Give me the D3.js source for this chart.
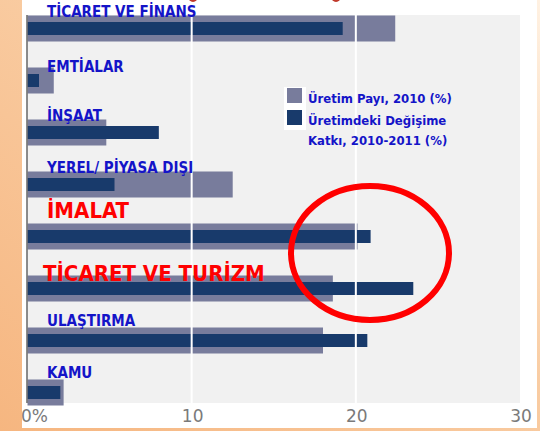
<!DOCTYPE html>
<html>
<head>
<meta charset="utf-8">
<script src="https://cdn.jsdelivr.net/npm/d3@7"></script>
<style>
  html, body { margin: 0; padding: 0; background: #fff; }
  svg { display: block; }
</style>
</head>
<body>
<div id="grafico"></div>
<script>
// Dados do gráfico
const categorias = ["TİCARET VE FİNANS", "EMTİALAR", "İNŞAAT", "YEREL/ PİYASA DIŞI",
                    "İMALAT", "TİCARET VE TURİZM", "ULAŞTIRMA", "KAMU"];
const uretimPayi = [22.4, 1.6, 4.8, 12.5, 20.1, 18.6, 18.0, 2.2];
const degisimeKatki = [19.2, 0.7, 8.0, 5.3, 20.9, 23.5, 20.7, 2.0];
const vurgulanan = ["İMALAT", "TİCARET VE TURİZM"];
const xTicks = [0, 10, 20, 30];
const legendaLinhas = [["Üretim Payı, 2010 (%)"], ["Üretimdeki Değişime", "Katkı, 2010-2011 (%)"]];

const W = 540, H = 431;
const fonte = "'DejaVu Sans Condensed', 'DejaVu Sans', sans-serif";

const svg = d3.select("#grafico")
  .append("svg")
    .attr("width", W)
    .attr("height", H);

// fundo laranja (moldura do slide)
const defs = svg.append("defs");
const grad = defs.append("linearGradient")
  .attr("id", "fundo")
  .attr("x1", "0%").attr("y1", "100%")
  .attr("x2", "100%").attr("y2", "0%");
grad.append("stop").attr("offset", "0%").attr("stop-color", "#f6b680");
grad.append("stop").attr("offset", "55%").attr("stop-color", "#f9cca2");
grad.append("stop").attr("offset", "100%").attr("stop-color", "#fff1e2");

svg.append("rect").attr("width", W).attr("height", H).attr("fill", "url(#fundo)");
svg.append("rect")
  .attr("x", 22).attr("y", 0)
  .attr("width", 515).attr("height", 428)
  .attr("fill", "#ffffff");

defs.append("clipPath").attr("id", "painel")
  .append("rect").attr("x", 22).attr("y", 0).attr("width", 515).attr("height", 428);

const g = svg.append("g").attr("clip-path", "url(#painel)");

// pontinhas vermelhas cortadas no topo (resto do slide)
g.selectAll(".marca")
  .data([193, 336])
  .join("ellipse")
    .attr("class", "marca")
    .attr("cx", d => d).attr("cy", -4)
    .attr("rx", 5).attr("ry", 6)
    .attr("fill", "#c0392b");

// Escalas
const x = d3.scaleLinear().domain([0, 30]).range([27.5, 520]);
const y = d3.scaleBand().domain(categorias).range([2.5, 418.5]).padding(0);
const yc = d => y(d) + y.bandwidth() / 2;

// área do gráfico
g.append("rect")
  .attr("x", x(0)).attr("y", 15)
  .attr("width", x(30) - x(0)).attr("height", 388)
  .attr("fill", "#f1f1f1");

const dados = categorias.map((c, i) => ({cat: c, payi: uretimPayi[i], katki: degisimeKatki[i]}));

// barras claras
g.selectAll(".payi")
  .data(dados)
  .join("rect")
    .attr("class", "payi")
    .attr("x", x(0))
    .attr("y", d => yc(d.cat) - 13)
    .attr("width", d => x(d.payi) - x(0))
    .attr("height", 26)
    .attr("fill", "#787c9c");

// barras escuras
g.selectAll(".katki")
  .data(dados)
  .join("rect")
    .attr("class", "katki")
    .attr("x", x(0))
    .attr("y", d => yc(d.cat) - 6.5)
    .attr("width", d => x(d.katki) - x(0))
    .attr("height", 13)
    .attr("fill", "#183a6b");

// linhas de grade (por cima das barras)
g.selectAll(".grade")
  .data(xTicks.filter(t => t > 0 && t < 30))
  .join("line")
    .attr("class", "grade")
    .attr("x1", d => x(d)).attr("x2", d => x(d))
    .attr("y1", 15).attr("y2", 403)
    .attr("stroke", "#ffffff")
    .attr("stroke-width", 2);

// eixo y
g.append("line")
  .attr("x1", 27).attr("x2", 27)
  .attr("y1", 15).attr("y2", 403)
  .attr("stroke", "#666")
  .attr("stroke-width", 1.5);

// eixo x (rótulos)
g.selectAll(".tick")
  .data(xTicks)
  .join("text")
    .attr("class", "tick")
    .attr("x", d => d === 0 ? 21 : x(d) + 1)
    .attr("y", 422)
    .attr("text-anchor", d => d === 0 ? "start" : "middle")
    .attr("font-family", "DejaVu Sans, sans-serif")
    .attr("font-size", 17)
    .attr("fill", "#7a7a7a")
    .text(d => d === 0 ? "0%" : d);

// rótulos das categorias
const ajuste = {"İMALAT": -19, "TİCARET VE TURİZM": -8, "EMTİALAR": -9, "ULAŞTIRMA": -15, "KAMU": -15};
g.selectAll(".rotulo")
  .data(categorias)
  .join("text")
    .attr("class", "rotulo")
    .attr("x", d => d === "TİCARET VE TURİZM" ? 43 : 47)
    .attr("y", d => yc(d) + (ajuste[d] !== undefined ? ajuste[d] : -12))
    .attr("font-family", fonte)
    .attr("font-weight", "bold")
    .attr("font-size", d => vurgulanan.includes(d) ? 22 : 15)
    .attr("fill", d => vurgulanan.includes(d) ? "#ff0000" : "#1414c8")
    .text(d => d);

// legenda
g.append("rect")
  .attr("x", 284).attr("y", 87).attr("width", 22).attr("height", 43)
  .attr("fill", "#ffffff");
const corLeg = ["#787c9c", "#183a6b"];
legendaLinhas.forEach((linhas, i) => {
  const y0 = 88 + i * 22;
  g.append("rect")
    .attr("x", 287).attr("y", y0)
    .attr("width", 15).attr("height", 15)
    .attr("fill", corLeg[i]);
  linhas.forEach((t, j) => {
    g.append("text")
      .attr("x", 308)
      .attr("y", 103 + i * 22 + j * 20)
      .attr("font-family", fonte)
      .attr("font-weight", "bold")
      .attr("font-size", 13)
      .attr("fill", "#1414c8")
      .text(t);
  });
});

// círculo vermelho de destaque
g.append("ellipse")
  .attr("cx", 370).attr("cy", 253)
  .attr("rx", 79).attr("ry", 67)
  .attr("fill", "none")
  .attr("stroke", "#ff0000")
  .attr("stroke-width", 6);
</script>
</body>
</html>
